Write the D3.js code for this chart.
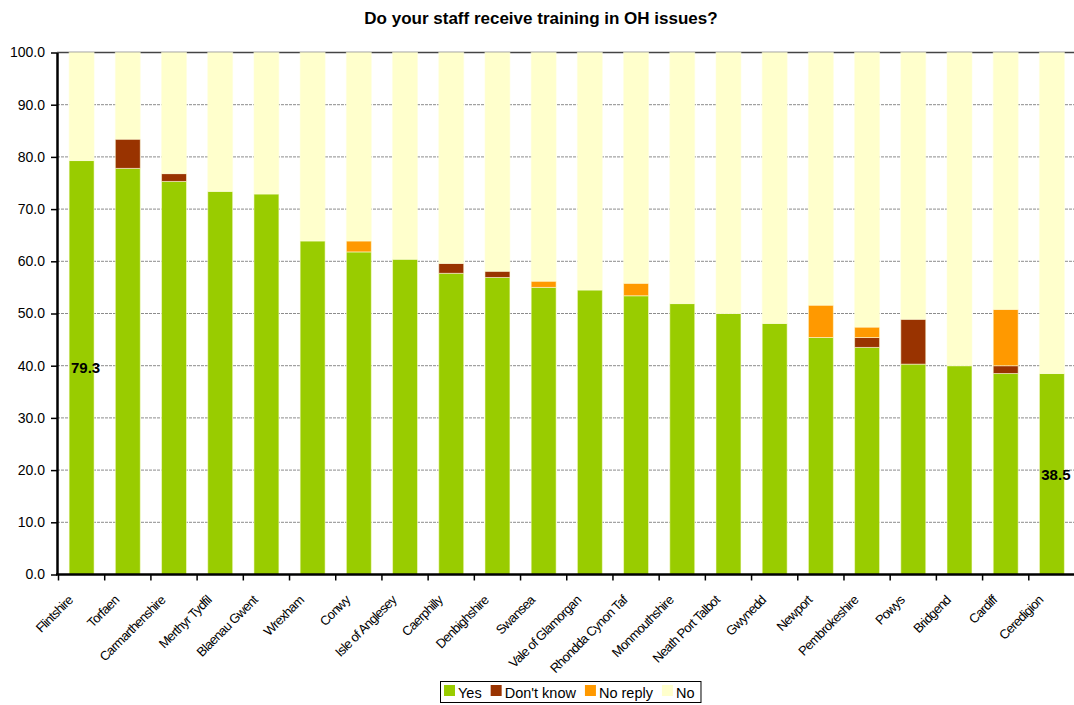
<!DOCTYPE html>
<html>
<head>
<meta charset="utf-8">
<script src="https://cdn.jsdelivr.net/npm/d3@7"></script>
<style>
  body { margin: 0; background: #fff; }
  text { font-family: Arial, "Liberation Sans", sans-serif; fill: #000; }
</style>
</head>
<body>
<svg id="chart" width="1074" height="705"></svg>
<script>
var categories = ["Flintshire", "Torfaen", "Carmarthenshire", "Merthyr Tydfil", "Blaenau Gwent",
  "Wrexham", "Conwy", "Isle of Anglesey", "Caerphilly", "Denbighshire", "Swansea",
  "Vale of Glamorgan", "Rhondda Cynon Taf", "Monmouthshire", "Neath Port Talbot", "Gwynedd",
  "Newport", "Pembrokeshire", "Powys", "Bridgend", "Cardiff", "Ceredigion"];

var yes      = [79.3, 77.8, 75.3, 73.4, 72.9, 63.9, 61.8, 60.4, 57.7, 56.9, 55.0, 54.5, 53.4, 51.9, 50.0, 48.1, 45.4, 43.5, 40.3, 40.0, 38.5, 38.5];
var dontKnow = [0, 5.6, 1.5, 0, 0, 0, 0, 0, 1.9, 1.2, 0, 0, 0, 0, 0, 0, 0, 1.9, 8.6, 0, 1.5, 0];
var noReply  = [0, 0, 0, 0, 0, 0, 2.1, 0, 0, 0, 1.2, 0, 2.4, 0, 0, 0, 6.2, 2.0, 0, 0, 10.8, 0];
var no       = [20.7, 16.6, 23.2, 26.6, 27.1, 36.1, 36.1, 39.6, 40.4, 41.9, 43.8, 45.5, 44.2, 48.1, 50.0, 51.9, 48.4, 52.6, 51.1, 60.0, 49.2, 61.5];

var seriesNames = ["Yes", "Don't know", "No reply", "No"];
var yTicks = [0, 10, 20, 30, 40, 50, 60, 70, 80, 90, 100];
var labelled = ["Flintshire", "Ceredigion"];   // only these get a value label

var colors = {"Yes": "#99cc00", "Don't know": "#993300", "No reply": "#ff9900", "No": "#ffffcc"};

var rows = categories.map(function(c, i){
  return {cat: c, "Yes": yes[i], "Don't know": dontKnow[i], "No reply": noReply[i], "No": no[i]};
});

var svg = d3.select("#chart");

var x = d3.scaleBand()
  .domain(categories)
  .range([58.5, 1075])
  .paddingInner(0.46)
  .paddingOuter(0.23);

var y = d3.scaleLinear()
  .domain([0, 100])
  .range([574.5, 52.5]);

// title
svg.append("text")
  .attr("x", 541)
  .attr("y", 24)
  .attr("text-anchor", "middle")
  .style("font-size", "17px")
  .style("font-weight", "bold")
  .text("Do your staff receive training in OH issues?");

// grid lines, behind the bars
svg.append("g")
  .selectAll("line")
  .data(yTicks.filter(function(d){ return d > 0; }))
  .enter()
  .append("line")
  .attr("x1", 57)
  .attr("x2", 1074)
  .attr("y1", function(d){ return y(d); })
  .attr("y2", function(d){ return y(d); })
  .attr("stroke", function(d){ return d == 100 ? "#444" : "#8c8c8c"; })
  .attr("stroke-width", function(d){ return d == 100 ? 1.5 : 1; })
  .attr("stroke-dasharray", function(d){ return d == 100 ? null : "3,1"; });

// stacked bars
var stacked = d3.stack().keys(seriesNames)(rows);

svg.append("g")
  .selectAll("g")
  .data(stacked)
  .enter()
  .append("g")
  .attr("fill", function(s){ return colors[s.key]; })
  .selectAll("rect")
  .data(function(s){ return s.filter(function(d){ return d[1] - d[0] > 0; }); })
  .enter()
  .append("rect")
  .attr("x", function(d){ return x(d.data.cat); })
  .attr("width", x.bandwidth())
  .attr("y", function(d){ return y(d[1]); })
  .attr("height", function(d){ return y(d[0]) - y(d[1]); })
  .attr("stroke", "rgba(255,255,220,0.55)")
  .attr("stroke-width", 1);

// value labels
svg.append("g")
  .selectAll("text")
  .data(rows.filter(function(d){ return labelled.indexOf(d.cat) >= 0; }))
  .enter()
  .append("text")
  .attr("x", function(d){ return x(d.cat) + x.bandwidth() / 2 + 4; })
  .attr("y", function(d){ return y(d["Yes"] / 2); })
  .attr("dy", "0.38em")
  .attr("text-anchor", "middle")
  .style("font-size", "15px")
  .style("font-weight", "bold")
  .text(function(d){ return d["Yes"].toFixed(1); });

// y axis
var yAxis = svg.append("g")
  .attr("transform", "translate(57,0)")
  .call(d3.axisLeft(y).tickValues(yTicks).tickFormat(d3.format(".1f")).tickSize(6).tickSizeOuter(0));
yAxis.select(".domain").attr("stroke", "#000").attr("stroke-width", 2.5);
yAxis.selectAll(".tick line").attr("stroke", "#000").attr("stroke-width", 1.5);
yAxis.selectAll(".tick text")
  .attr("x", -12)
  .style("font-size", "14px")
  .style("font-family", "Arial, 'Liberation Sans', sans-serif");

// x axis: line plus ticks on the category boundaries
var step = x.step();
var x0 = x.range()[0];
var xAxis = svg.append("g");
xAxis.append("line")
  .attr("x1", 56)
  .attr("x2", 1074)
  .attr("y1", y(0))
  .attr("y2", y(0))
  .attr("stroke", "#000")
  .attr("stroke-width", 2.5);
xAxis.selectAll("line.tick")
  .data(d3.range(categories.length + 1))
  .enter()
  .append("line")
  .attr("class", "tick")
  .attr("x1", function(i){ return x0 + i * step; })
  .attr("x2", function(i){ return x0 + i * step; })
  .attr("y1", y(0))
  .attr("y2", y(0) + 6)
  .attr("stroke", "#000")
  .attr("stroke-width", 1.5);

xAxis.selectAll("text")
  .data(categories)
  .enter()
  .append("text")
  .attr("transform", function(d){
    return "translate(" + (x(d) + x.bandwidth() / 2 - 8) + "," + 601 + ") rotate(-45)";
  })
  .attr("text-anchor", "end")
  .style("font-size", "13px")
  .style("letter-spacing", "-0.7px")
  .text(function(d){ return d; });

// legend
var legend = svg.append("g");
var lx = 444;
seriesNames.forEach(function(name){
  legend.append("rect")
    .attr("x", lx)
    .attr("y", 685)
    .attr("width", 11)
    .attr("height", 11)
    .attr("fill", colors[name]);
  var t = legend.append("text")
    .attr("x", lx + 14)
    .attr("y", 697.5)
    .style("font-size", "14.5px")
    .text(name);
  lx += 14 + t.node().getComputedTextLength() + 9;
});
legend.insert("rect", ":first-child")
  .attr("x", 440.5)
  .attr("y", 681.5)
  .attr("width", lx - 9 - 440 + 6)
  .attr("height", 21)
  .attr("fill", "#fff")
  .attr("stroke", "#000")
  .attr("stroke-width", 1);
</script>
</body>
</html>
